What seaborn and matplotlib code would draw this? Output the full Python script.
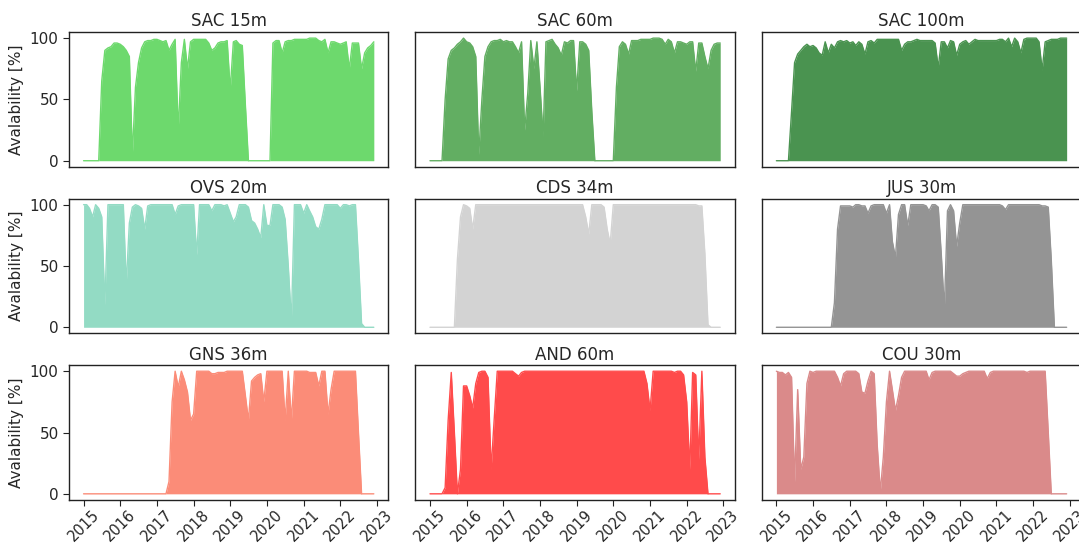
import numpy as np
import pandas as pd
import matplotlib
matplotlib.use("Agg")
import matplotlib.pyplot as plt
import matplotlib.dates as mdates
import seaborn as sns

# Monthly data availability per sensor (Jan 2015 - Dec 2022), in percent
months = pd.date_range("2015-01-01", periods=96, freq="MS")

titles = ["SAC 15m", "SAC 60m", "SAC 100m",
          "OVS 20m", "CDS 34m", "JUS 30m",
          "GNS 36m", "AND 60m", "COU 30m"]

colors = ["#6dd96d", "#62ae62", "#4a9350",
          "#93dbc4", "#d3d3d3", "#949494",
          "#fb8c78", "#ff4b4b", "#da8a8a"]

sac_15 = [0, 0, 0, 0, 0, 0, 65, 90, 92, 93, 96, 96, 95, 93, 90, 85,
          5, 60, 80, 92, 97, 98, 98, 99, 99, 98, 97, 98, 90, 95, 99, 25,
          80, 99, 75, 97, 99, 99, 99, 99, 99, 96, 90, 92, 96, 97, 97, 98,
          58, 97, 98, 95, 94, 45, 0, 0, 0, 0, 0, 0, 0, 0, 96, 98,
          98, 88, 97, 98, 98, 99, 99, 99, 99, 99, 100, 100, 100, 98, 97, 99,
          88, 97, 97, 96, 95, 96, 97, 75, 96, 96, 96, 75, 88, 92, 94, 97]

sac_60 = [0, 0, 0, 0, 0, 50, 83, 90, 92, 95, 97, 100, 97, 96, 93, 85,
          5, 50, 85, 93, 97, 98, 98, 99, 97, 98, 97, 97, 93, 88, 97, 25,
          55, 98, 75, 97, 60, 20, 97, 98, 99, 95, 92, 86, 97, 96, 98, 98,
          57, 97, 97, 95, 90, 40, 0, 0, 0, 0, 0, 0, 0, 60, 93, 97,
          95, 87, 98, 98, 98, 99, 99, 99, 99, 100, 100, 100, 99, 95, 99, 97,
          88, 97, 97, 96, 95, 97, 97, 73, 96, 96, 85, 75, 90, 95, 96, 96]

sac_100 = [0, 0, 0, 0, 0, 40, 80, 87, 90, 93, 95, 93, 94, 92, 88, 86,
           97, 88, 95, 92, 97, 98, 97, 98, 96, 97, 94, 97, 95, 87, 97, 98,
           96, 99, 99, 99, 99, 99, 99, 99, 99, 90, 95, 97, 97, 98, 99, 98,
           98, 98, 98, 98, 96, 76, 97, 97, 92, 98, 97, 86, 95, 97, 98, 95,
           97, 99, 98, 98, 98, 98, 98, 98, 98, 99, 99, 97, 100, 93, 100, 97,
           88, 99, 100, 100, 100, 100, 97, 74, 97, 98, 99, 99, 99, 100, 100, 100]

ovs_20 = [100, 100, 97, 90, 100, 97, 90, 18, 100, 100, 100, 100, 100, 100, 35, 85,
          98, 100, 99, 97, 80, 99, 100, 100, 100, 100, 100, 100, 100, 100, 92, 99,
          100, 100, 100, 100, 100, 59, 100, 100, 100, 100, 95, 100, 100, 100, 99, 100,
          93, 86, 90, 100, 100, 100, 98, 87, 85, 80, 73, 100, 83, 83, 100, 100,
          100, 98, 88, 50, 5, 100, 100, 100, 93, 100, 95, 90, 82, 80, 88, 100,
          100, 100, 100, 100, 97, 100, 100, 99, 100, 100, 55, 3, 0, 0, 0, 0]

cds_34 = [0, 0, 0, 0, 0, 0, 0, 0, 0, 55, 90, 100, 99, 97, 80, 100,
          100, 100, 100, 100, 100, 100, 100, 100, 100, 100, 100, 100, 100, 100, 100, 100,
          100, 100, 100, 100, 100, 100, 100, 100, 100, 100, 100, 100, 100, 100, 100, 100,
          100, 100, 100, 90, 76, 100, 100, 100, 100, 98, 80, 68, 100, 100, 100, 100,
          100, 100, 100, 100, 100, 100, 100, 100, 100, 100, 100, 100, 100, 100, 100, 100,
          100, 100, 100, 100, 100, 100, 100, 100, 99, 99, 60, 2, 0, 0, 0, 0]

jus_30 = [0, 0, 0, 0, 0, 0, 0, 0, 0, 0, 0, 0, 0, 0, 0, 0,
          0, 0, 0, 20, 80, 99, 99, 99, 99, 98, 100, 100, 99, 99, 93, 99,
          100, 100, 100, 100, 93, 100, 70, 57, 92, 100, 100, 83, 100, 100, 100, 100,
          100, 99, 95, 100, 100, 98, 60, 15, 95, 100, 95, 66, 85, 100, 100, 100,
          100, 100, 100, 100, 100, 100, 100, 100, 100, 100, 99, 96, 100, 100, 100, 100,
          100, 100, 100, 100, 100, 100, 100, 99, 99, 98, 55, 0, 0, 0, 0, 0]

gns_36 = [0, 0, 0, 0, 0, 0, 0, 0, 0, 0, 0, 0, 0, 0, 0, 0,
          0, 0, 0, 0, 0, 0, 0, 0, 0, 0, 0, 0, 10, 75, 100, 87,
          100, 93, 83, 60, 65, 100, 100, 100, 100, 100, 98, 98, 99, 99, 99, 100,
          100, 100, 100, 100, 100, 80, 60, 92, 95, 97, 98, 75, 100, 100, 100, 100,
          100, 100, 60, 100, 60, 100, 100, 100, 100, 100, 99, 99, 99, 88, 100, 100,
          65, 85, 100, 100, 100, 100, 100, 100, 100, 100, 50, 0, 0, 0, 0, 0]

and_60 = [0, 0, 0, 0, 0, 5, 60, 99, 50, 0, 20, 88, 88, 80, 70, 90,
          99, 100, 100, 95, 20, 60, 100, 100, 100, 100, 100, 100, 98, 96, 99, 100,
          100, 100, 100, 100, 100, 100, 100, 100, 100, 100, 100, 100, 100, 100, 100, 100,
          100, 100, 100, 100, 100, 100, 100, 100, 100, 100, 100, 100, 100, 100, 100, 100,
          100, 100, 100, 100, 100, 100, 100, 90, 68, 100, 100, 100, 100, 100, 100, 100,
          99, 100, 100, 97, 75, 20, 99, 97, 28, 100, 30, 0, 0, 0, 0, 0]

cou_30 = [100, 99, 99, 97, 99, 95, 10, 85, 20, 30, 90, 100, 99, 100, 100, 100,
          100, 100, 100, 100, 95, 88, 98, 100, 100, 100, 100, 98, 83, 82, 92, 100,
          98, 40, 2, 30, 75, 100, 85, 68, 80, 95, 100, 100, 100, 100, 100, 100,
          100, 100, 93, 99, 100, 100, 100, 100, 100, 100, 98, 96, 96, 98, 99, 100,
          100, 100, 100, 100, 100, 94, 99, 100, 100, 100, 100, 100, 100, 100, 100, 100,
          100, 100, 99, 100, 100, 100, 100, 100, 100, 50, 0, 0, 0, 0, 0, 0]

series = [sac_15, sac_60, sac_100, ovs_20, cds_34, jus_30, gns_36, and_60, cou_30]

sns.set_style("ticks")
plt.rcParams["font.family"] = ["DejaVu Sans"]

fig, axes = plt.subplots(3, 3, figsize=(10.79, 5.47), dpi=100,
                         sharex=True, sharey=True)
fig.subplots_adjust(left=0.064, right=1.002, top=0.9415, bottom=0.086,
                    wspace=0.085, hspace=0.235)

for ax, title, color, values in zip(axes.flat, titles, colors, series):
    df = pd.DataFrame({"date": months, "availability": values})
    sns.lineplot(data=df, x="date", y="availability", ax=ax,
                 color=color, linewidth=1.0)
    ax.fill_between(df["date"], df["availability"], color=color, linewidth=0)
    ax.set_title(title, fontsize=12, pad=4)
    ax.set_xlabel("")
    ax.set_ylabel("")
    for side in ax.spines.values():
        side.set_color("#222222")
        side.set_linewidth(1.0)

axes[0, 0].set_ylim(-5, 105)
axes[0, 0].set_yticks([0, 50, 100])
axes[0, 0].xaxis.set_major_locator(mdates.YearLocator())
axes[0, 0].xaxis.set_major_formatter(mdates.DateFormatter("%Y"))

for r in range(3):
    axes[r, 0].set_ylabel("Avalability [%]", fontsize=11)
    axes[r, 0].tick_params(axis="y", labelsize=11, length=4, color="#222222")
    for c in (1, 2):
        axes[r, c].tick_params(axis="y", left=False, labelleft=False)
for r in (0, 1):
    for c in range(3):
        axes[r, c].tick_params(axis="x", bottom=False, labelbottom=False)
for c in range(3):
    axes[2, c].tick_params(axis="x", labelsize=10.5, length=4, pad=1,
                           color="#222222", rotation=45)

fig.savefig("out.png", dpi=100)
